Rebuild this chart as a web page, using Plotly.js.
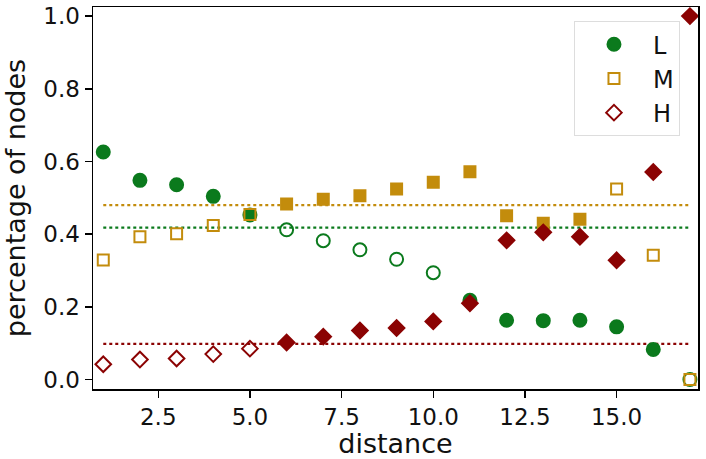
<!DOCTYPE html>
<html>
<head>
<meta charset="utf-8">
<script src="https://cdn.plot.ly/plotly-3.0.1.min.js"></script>
<style>html,body{margin:0;padding:0;background:#fff;}#chart{width:706px;height:459px;}</style>
</head>
<body>
<div id="chart"></div>
<script>
// ---- data ----
const distance = [1,2,3,4,5,6,7,8,9,10,11,12,13,14,15,16,17];
const L = [0.626,0.548,0.536,0.504,0.453,0.412,0.382,0.357,0.331,0.294,0.218,0.163,0.162,0.163,0.145,0.083,0.0];
const M = [0.329,0.393,0.401,0.424,0.454,0.483,0.496,0.506,0.524,0.543,0.572,0.451,0.430,0.441,0.524,0.342,0.0];
const H = [0.042,0.055,0.058,0.070,0.085,0.102,0.118,0.135,0.142,0.160,0.210,0.383,0.405,0.393,0.328,0.571,1.0];
// significant (filled) vs not significant (open)
const Lsig = [1,1,1,1,1,0,0,0,0,0,1,1,1,1,1,1,0];
const Msig = [0,0,0,0,0,1,1,1,1,1,1,1,1,1,0,0,0];
const Hsig = [0,0,0,0,0,1,1,1,1,1,1,1,1,1,1,1,1];
const baseL = 0.418, baseM = 0.480, baseH = 0.098;
const seriesNames = ['L','M','H'];
const xTickVals = [2.5,5.0,7.5,10.0,12.5,15.0];
const xTickText = ['2.5','5.0','7.5','10.0','12.5','15.0'];
const yTickVals = [0,0.2,0.4,0.6,0.8,1.0];
const yTickText = ['0.0','0.2','0.4','0.6','0.8','1.0'];

// ---- style ----
const cL = '#0b7a1d', cM = '#c38c0c', cH = '#8b0303';
const xLine = [distance[0], distance[distance.length-1]];

function markerTrace(name, y, sig, sym, color, size){
  return {
    type:'scatter', mode:'markers', name:name, x:distance, y:y,
    marker:{
      symbol: sig.map(s => s ? sym : sym + '-open'),
      color: color, size: size,
      line:{color: color, width: 2}
    },
    cliponaxis:false
  };
}
function baseTrace(v, color){
  return {type:'scatter', mode:'lines', x:xLine, y:[v,v], showlegend:false,
    line:{color:color, width:2.2, dash:'dot'}, hoverinfo:'skip'};
}

const data = [
  baseTrace(baseM, cM), baseTrace(baseL, cL), baseTrace(baseH, cH),
  markerTrace(seriesNames[0], L, Lsig, 'circle', cL, 13),
  markerTrace(seriesNames[1], M, Msig, 'square', cM, 11),
  markerTrace(seriesNames[2], H, Hsig, 'diamond', cH, 12)
];

const axisCommon = {
  showline:true, linecolor:'#000', linewidth:1.5, mirror:true,
  ticks:'outside', ticklen:7, tickwidth:1.5, tickcolor:'#000',
  showgrid:false, zeroline:false,
  tickfont:{family:'DejaVu Sans', size:23, color:'#111'}
};

const layout = {
  width:706, height:459,
  margin:{l:93, r:8, t:7, b:70},
  paper_bgcolor:'#fff', plot_bgcolor:'#fff',
  font:{family:'DejaVu Sans', color:'#111'},
  xaxis:Object.assign({}, axisCommon, {
    range:[0.72, 17.22], tickmode:'array', tickvals:xTickVals, ticktext:xTickText,
    title:{text:'distance', font:{family:'DejaVu Sans', size:27, color:'#111'}, standoff:2}
  }),
  yaxis:Object.assign({}, axisCommon, {
    range:[-0.026, 1.025], tickmode:'array', tickvals:yTickVals, ticktext:yTickText,
    title:{text:'percentage of nodes', font:{family:'DejaVu Sans', size:27, color:'#111'}, standoff:10}
  }),
  showlegend:true,
  legend:{
    x:0.795, y:0.963, xanchor:'left', yanchor:'top',
    bgcolor:'rgba(255,255,255,0.9)', bordercolor:'#dddddd', borderwidth:1,
    font:{family:'DejaVu Sans', size:24, color:'#111'},
    itemwidth:68, tracegroupgap:0
  }
};

Plotly.newPlot('chart', data, layout, {displayModeBar:false, staticPlot:true});
</script>
</body>
</html>
